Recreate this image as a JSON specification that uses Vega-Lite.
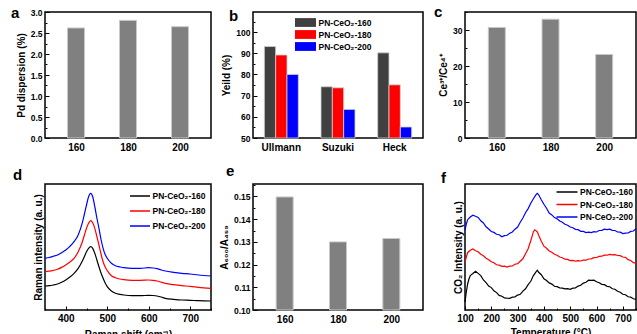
{
"$schema": "https://vega.github.io/schema/vega-lite/v6.json",
"padding": {"left": 10, "top": 4, "right": 0, "bottom": 0},
"config": {
 "font": "Liberation Sans",
 "view": {"stroke": "black", "strokeWidth": 1.5},
 "axis": {"grid": false, "domain": false, "tickColor": "black", "tickSize": -4, "tickWidth": 1, "labelFont": "Liberation Sans", "labelFontWeight": "bold", "labelFontSize": 8.5, "labelColor": "black", "labelPadding": 7, "labelOverlap": false, "labelFlush": false, "titleFont": "Liberation Sans", "titleFontWeight": "bold", "titleFontSize": 10, "titleColor": "black", "titlePadding": 4},
 "axisX": {"labelFontSize": 10},
 "title": {"anchor": "start", "frame": "group", "fontSize": 15, "fontWeight": "bold", "font": "Liberation Sans", "offset": 0, "baseline": "alphabetic", "color": "black"},
 "legend": {"title": null, "labelFont": "Liberation Sans", "labelFontWeight": "bold", "labelFontSize": 8.5, "labelColor": "black", "padding": 0, "orient": "none"}
},
"datasets": {
 "pd": [{"temp": 160, "dispersion": 2.62}, {"temp": 180, "dispersion": 2.80}, {"temp": 200, "dispersion": 2.65}],
 "yield": [
  {"reaction": "Ullmann", "sample": "PN-CeO₂-160", "yield": 93.2},
  {"reaction": "Ullmann", "sample": "PN-CeO₂-180", "yield": 89.2},
  {"reaction": "Ullmann", "sample": "PN-CeO₂-200", "yield": 80.0},
  {"reaction": "Suzuki", "sample": "PN-CeO₂-160", "yield": 74.2},
  {"reaction": "Suzuki", "sample": "PN-CeO₂-180", "yield": 73.7},
  {"reaction": "Suzuki", "sample": "PN-CeO₂-200", "yield": 63.5},
  {"reaction": "Heck", "sample": "PN-CeO₂-160", "yield": 90.2},
  {"reaction": "Heck", "sample": "PN-CeO₂-180", "yield": 75.1},
  {"reaction": "Heck", "sample": "PN-CeO₂-200", "yield": 55.2}
 ],
 "ce": [{"temp": 160, "ratio": 30.7}, {"temp": 180, "ratio": 33.0}, {"temp": 200, "ratio": 23.2}],
 "area": [{"temp": 160, "ratio": 0.1498}, {"temp": 180, "ratio": 0.1300}, {"temp": 200, "ratio": 0.1315}],
 "raman": [
  {"sample": "PN-CeO₂-160", "shift": 350, "intensity": 24},
  {"sample": "PN-CeO₂-160", "shift": 360, "intensity": 24.3},
  {"sample": "PN-CeO₂-160", "shift": 370, "intensity": 25},
  {"sample": "PN-CeO₂-160", "shift": 380, "intensity": 26},
  {"sample": "PN-CeO₂-160", "shift": 390, "intensity": 27.7},
  {"sample": "PN-CeO₂-160", "shift": 400, "intensity": 30},
  {"sample": "PN-CeO₂-160", "shift": 410, "intensity": 33},
  {"sample": "PN-CeO₂-160", "shift": 420, "intensity": 36.7},
  {"sample": "PN-CeO₂-160", "shift": 430, "intensity": 41.7},
  {"sample": "PN-CeO₂-160", "shift": 440, "intensity": 49},
  {"sample": "PN-CeO₂-160", "shift": 445, "intensity": 53.5},
  {"sample": "PN-CeO₂-160", "shift": 450, "intensity": 58.3},
  {"sample": "PN-CeO₂-160", "shift": 455, "intensity": 61.7},
  {"sample": "PN-CeO₂-160", "shift": 460, "intensity": 63.3},
  {"sample": "PN-CeO₂-160", "shift": 465, "intensity": 61.7},
  {"sample": "PN-CeO₂-160", "shift": 470, "intensity": 56.7},
  {"sample": "PN-CeO₂-160", "shift": 475, "intensity": 50},
  {"sample": "PN-CeO₂-160", "shift": 480, "intensity": 43.3},
  {"sample": "PN-CeO₂-160", "shift": 485, "intensity": 37},
  {"sample": "PN-CeO₂-160", "shift": 490, "intensity": 31.7},
  {"sample": "PN-CeO₂-160", "shift": 495, "intensity": 27},
  {"sample": "PN-CeO₂-160", "shift": 500, "intensity": 23.3},
  {"sample": "PN-CeO₂-160", "shift": 510, "intensity": 19},
  {"sample": "PN-CeO₂-160", "shift": 520, "intensity": 16.7},
  {"sample": "PN-CeO₂-160", "shift": 530, "intensity": 15.7},
  {"sample": "PN-CeO₂-160", "shift": 540, "intensity": 15},
  {"sample": "PN-CeO₂-160", "shift": 560, "intensity": 14.3},
  {"sample": "PN-CeO₂-160", "shift": 580, "intensity": 14.3},
  {"sample": "PN-CeO₂-160", "shift": 600, "intensity": 14.7},
  {"sample": "PN-CeO₂-160", "shift": 610, "intensity": 14.5},
  {"sample": "PN-CeO₂-160", "shift": 620, "intensity": 14},
  {"sample": "PN-CeO₂-160", "shift": 630, "intensity": 13},
  {"sample": "PN-CeO₂-160", "shift": 640, "intensity": 11.7},
  {"sample": "PN-CeO₂-160", "shift": 660, "intensity": 10.7},
  {"sample": "PN-CeO₂-160", "shift": 680, "intensity": 10},
  {"sample": "PN-CeO₂-160", "shift": 700, "intensity": 9.7},
  {"sample": "PN-CeO₂-160", "shift": 720, "intensity": 9.3},
  {"sample": "PN-CeO₂-160", "shift": 750, "intensity": 9},
  {"sample": "PN-CeO₂-180", "shift": 350, "intensity": 38.3},
  {"sample": "PN-CeO₂-180", "shift": 360, "intensity": 38.8},
  {"sample": "PN-CeO₂-180", "shift": 370, "intensity": 39.6},
  {"sample": "PN-CeO₂-180", "shift": 380, "intensity": 40.7},
  {"sample": "PN-CeO₂-180", "shift": 390, "intensity": 42.6},
  {"sample": "PN-CeO₂-180", "shift": 400, "intensity": 45},
  {"sample": "PN-CeO₂-180", "shift": 410, "intensity": 48},
  {"sample": "PN-CeO₂-180", "shift": 420, "intensity": 51.7},
  {"sample": "PN-CeO₂-180", "shift": 430, "intensity": 58.3},
  {"sample": "PN-CeO₂-180", "shift": 440, "intensity": 68.3},
  {"sample": "PN-CeO₂-180", "shift": 445, "intensity": 75},
  {"sample": "PN-CeO₂-180", "shift": 450, "intensity": 81.7},
  {"sample": "PN-CeO₂-180", "shift": 455, "intensity": 86.7},
  {"sample": "PN-CeO₂-180", "shift": 460, "intensity": 89.3},
  {"sample": "PN-CeO₂-180", "shift": 465, "intensity": 87.3},
  {"sample": "PN-CeO₂-180", "shift": 470, "intensity": 81.7},
  {"sample": "PN-CeO₂-180", "shift": 475, "intensity": 73.5},
  {"sample": "PN-CeO₂-180", "shift": 480, "intensity": 65},
  {"sample": "PN-CeO₂-180", "shift": 485, "intensity": 56},
  {"sample": "PN-CeO₂-180", "shift": 490, "intensity": 48.3},
  {"sample": "PN-CeO₂-180", "shift": 495, "intensity": 43},
  {"sample": "PN-CeO₂-180", "shift": 500, "intensity": 39.4},
  {"sample": "PN-CeO₂-180", "shift": 510, "intensity": 34.3},
  {"sample": "PN-CeO₂-180", "shift": 520, "intensity": 32.3},
  {"sample": "PN-CeO₂-180", "shift": 530, "intensity": 31},
  {"sample": "PN-CeO₂-180", "shift": 540, "intensity": 30.3},
  {"sample": "PN-CeO₂-180", "shift": 560, "intensity": 29.7},
  {"sample": "PN-CeO₂-180", "shift": 580, "intensity": 29.7},
  {"sample": "PN-CeO₂-180", "shift": 600, "intensity": 30},
  {"sample": "PN-CeO₂-180", "shift": 610, "intensity": 29.7},
  {"sample": "PN-CeO₂-180", "shift": 620, "intensity": 29},
  {"sample": "PN-CeO₂-180", "shift": 630, "intensity": 27.8},
  {"sample": "PN-CeO₂-180", "shift": 640, "intensity": 26.7},
  {"sample": "PN-CeO₂-180", "shift": 660, "intensity": 25.3},
  {"sample": "PN-CeO₂-180", "shift": 680, "intensity": 24.3},
  {"sample": "PN-CeO₂-180", "shift": 700, "intensity": 23.7},
  {"sample": "PN-CeO₂-180", "shift": 720, "intensity": 22.7},
  {"sample": "PN-CeO₂-180", "shift": 750, "intensity": 21.7},
  {"sample": "PN-CeO₂-200", "shift": 350, "intensity": 51.7},
  {"sample": "PN-CeO₂-200", "shift": 360, "intensity": 52.5},
  {"sample": "PN-CeO₂-200", "shift": 370, "intensity": 53.7},
  {"sample": "PN-CeO₂-200", "shift": 380, "intensity": 55},
  {"sample": "PN-CeO₂-200", "shift": 390, "intensity": 57.3},
  {"sample": "PN-CeO₂-200", "shift": 400, "intensity": 60},
  {"sample": "PN-CeO₂-200", "shift": 410, "intensity": 63.7},
  {"sample": "PN-CeO₂-200", "shift": 420, "intensity": 68.3},
  {"sample": "PN-CeO₂-200", "shift": 430, "intensity": 75},
  {"sample": "PN-CeO₂-200", "shift": 440, "intensity": 87.3},
  {"sample": "PN-CeO₂-200", "shift": 445, "intensity": 96},
  {"sample": "PN-CeO₂-200", "shift": 450, "intensity": 105},
  {"sample": "PN-CeO₂-200", "shift": 455, "intensity": 113.3},
  {"sample": "PN-CeO₂-200", "shift": 460, "intensity": 116.7},
  {"sample": "PN-CeO₂-200", "shift": 465, "intensity": 113.3},
  {"sample": "PN-CeO₂-200", "shift": 470, "intensity": 103.3},
  {"sample": "PN-CeO₂-200", "shift": 475, "intensity": 92},
  {"sample": "PN-CeO₂-200", "shift": 480, "intensity": 81.7},
  {"sample": "PN-CeO₂-200", "shift": 485, "intensity": 70.5},
  {"sample": "PN-CeO₂-200", "shift": 490, "intensity": 61.7},
  {"sample": "PN-CeO₂-200", "shift": 495, "intensity": 55.5},
  {"sample": "PN-CeO₂-200", "shift": 500, "intensity": 51.7},
  {"sample": "PN-CeO₂-200", "shift": 510, "intensity": 46.7},
  {"sample": "PN-CeO₂-200", "shift": 520, "intensity": 44.3},
  {"sample": "PN-CeO₂-200", "shift": 530, "intensity": 43.2},
  {"sample": "PN-CeO₂-200", "shift": 540, "intensity": 42.3},
  {"sample": "PN-CeO₂-200", "shift": 560, "intensity": 41.7},
  {"sample": "PN-CeO₂-200", "shift": 580, "intensity": 41.7},
  {"sample": "PN-CeO₂-200", "shift": 600, "intensity": 42.3},
  {"sample": "PN-CeO₂-200", "shift": 610, "intensity": 42},
  {"sample": "PN-CeO₂-200", "shift": 620, "intensity": 41.3},
  {"sample": "PN-CeO₂-200", "shift": 630, "intensity": 40},
  {"sample": "PN-CeO₂-200", "shift": 640, "intensity": 39},
  {"sample": "PN-CeO₂-200", "shift": 660, "intensity": 37.7},
  {"sample": "PN-CeO₂-200", "shift": 680, "intensity": 36.7},
  {"sample": "PN-CeO₂-200", "shift": 700, "intensity": 36},
  {"sample": "PN-CeO₂-200", "shift": 720, "intensity": 35},
  {"sample": "PN-CeO₂-200", "shift": 750, "intensity": 34}
 ],
 "tpd": [
  {"sample": "PN-CeO₂-160", "t": 100, "v": 8},
  {"sample": "PN-CeO₂-160", "t": 105, "v": 18},
  {"sample": "PN-CeO₂-160", "t": 110, "v": 26},
  {"sample": "PN-CeO₂-160", "t": 115, "v": 31},
  {"sample": "PN-CeO₂-160", "t": 120, "v": 34.5},
  {"sample": "PN-CeO₂-160", "t": 130, "v": 36.5},
  {"sample": "PN-CeO₂-160", "t": 140, "v": 38.8},
  {"sample": "PN-CeO₂-160", "t": 150, "v": 36.6},
  {"sample": "PN-CeO₂-160", "t": 160, "v": 34.4},
  {"sample": "PN-CeO₂-160", "t": 170, "v": 30},
  {"sample": "PN-CeO₂-160", "t": 180, "v": 27.4},
  {"sample": "PN-CeO₂-160", "t": 190, "v": 24},
  {"sample": "PN-CeO₂-160", "t": 200, "v": 22.4},
  {"sample": "PN-CeO₂-160", "t": 210, "v": 19.2},
  {"sample": "PN-CeO₂-160", "t": 220, "v": 17.4},
  {"sample": "PN-CeO₂-160", "t": 230, "v": 14.6},
  {"sample": "PN-CeO₂-160", "t": 240, "v": 13.8},
  {"sample": "PN-CeO₂-160", "t": 250, "v": 12.2},
  {"sample": "PN-CeO₂-160", "t": 260, "v": 11.8},
  {"sample": "PN-CeO₂-160", "t": 270, "v": 11.6},
  {"sample": "PN-CeO₂-160", "t": 280, "v": 12.9},
  {"sample": "PN-CeO₂-160", "t": 290, "v": 13.2},
  {"sample": "PN-CeO₂-160", "t": 300, "v": 14.9},
  {"sample": "PN-CeO₂-160", "t": 310, "v": 15.7},
  {"sample": "PN-CeO₂-160", "t": 320, "v": 18.9},
  {"sample": "PN-CeO₂-160", "t": 330, "v": 21.2},
  {"sample": "PN-CeO₂-160", "t": 340, "v": 25.4},
  {"sample": "PN-CeO₂-160", "t": 350, "v": 28.7},
  {"sample": "PN-CeO₂-160", "t": 360, "v": 34.4},
  {"sample": "PN-CeO₂-160", "t": 370, "v": 38.2},
  {"sample": "PN-CeO₂-160", "t": 375, "v": 39.8},
  {"sample": "PN-CeO₂-160", "t": 380, "v": 37.7},
  {"sample": "PN-CeO₂-160", "t": 390, "v": 35.3},
  {"sample": "PN-CeO₂-160", "t": 400, "v": 31.2},
  {"sample": "PN-CeO₂-160", "t": 410, "v": 29.4},
  {"sample": "PN-CeO₂-160", "t": 420, "v": 27.1},
  {"sample": "PN-CeO₂-160", "t": 430, "v": 25.9},
  {"sample": "PN-CeO₂-160", "t": 440, "v": 23.7},
  {"sample": "PN-CeO₂-160", "t": 450, "v": 23.3},
  {"sample": "PN-CeO₂-160", "t": 460, "v": 22.1},
  {"sample": "PN-CeO₂-160", "t": 470, "v": 21.9},
  {"sample": "PN-CeO₂-160", "t": 480, "v": 21.1},
  {"sample": "PN-CeO₂-160", "t": 490, "v": 21.4},
  {"sample": "PN-CeO₂-160", "t": 500, "v": 20.7},
  {"sample": "PN-CeO₂-160", "t": 510, "v": 21.9},
  {"sample": "PN-CeO₂-160", "t": 520, "v": 22.2},
  {"sample": "PN-CeO₂-160", "t": 530, "v": 23.9},
  {"sample": "PN-CeO₂-160", "t": 540, "v": 24.7},
  {"sample": "PN-CeO₂-160", "t": 550, "v": 26.9},
  {"sample": "PN-CeO₂-160", "t": 560, "v": 27.7},
  {"sample": "PN-CeO₂-160", "t": 570, "v": 29.8},
  {"sample": "PN-CeO₂-160", "t": 580, "v": 29.7},
  {"sample": "PN-CeO₂-160", "t": 590, "v": 29.8},
  {"sample": "PN-CeO₂-160", "t": 600, "v": 28.2},
  {"sample": "PN-CeO₂-160", "t": 610, "v": 27.3},
  {"sample": "PN-CeO₂-160", "t": 620, "v": 25.7},
  {"sample": "PN-CeO₂-160", "t": 630, "v": 25.3},
  {"sample": "PN-CeO₂-160", "t": 640, "v": 23.7},
  {"sample": "PN-CeO₂-160", "t": 650, "v": 23.3},
  {"sample": "PN-CeO₂-160", "t": 660, "v": 21.2},
  {"sample": "PN-CeO₂-160", "t": 670, "v": 20.8},
  {"sample": "PN-CeO₂-160", "t": 680, "v": 18.7},
  {"sample": "PN-CeO₂-160", "t": 690, "v": 17.8},
  {"sample": "PN-CeO₂-160", "t": 700, "v": 15.7},
  {"sample": "PN-CeO₂-160", "t": 710, "v": 15.3},
  {"sample": "PN-CeO₂-160", "t": 720, "v": 13.2},
  {"sample": "PN-CeO₂-160", "t": 730, "v": 12.8},
  {"sample": "PN-CeO₂-160", "t": 740, "v": 11.2},
  {"sample": "PN-CeO₂-160", "t": 750, "v": 10.7},
  {"sample": "PN-CeO₂-180", "t": 100, "v": 48},
  {"sample": "PN-CeO₂-180", "t": 105, "v": 53},
  {"sample": "PN-CeO₂-180", "t": 110, "v": 57.3},
  {"sample": "PN-CeO₂-180", "t": 120, "v": 59.7},
  {"sample": "PN-CeO₂-180", "t": 130, "v": 61},
  {"sample": "PN-CeO₂-180", "t": 140, "v": 59.2},
  {"sample": "PN-CeO₂-180", "t": 150, "v": 58.3},
  {"sample": "PN-CeO₂-180", "t": 160, "v": 55.7},
  {"sample": "PN-CeO₂-180", "t": 170, "v": 54.3},
  {"sample": "PN-CeO₂-180", "t": 180, "v": 51.7},
  {"sample": "PN-CeO₂-180", "t": 190, "v": 50.3},
  {"sample": "PN-CeO₂-180", "t": 200, "v": 48.2},
  {"sample": "PN-CeO₂-180", "t": 210, "v": 47.3},
  {"sample": "PN-CeO₂-180", "t": 220, "v": 45.2},
  {"sample": "PN-CeO₂-180", "t": 230, "v": 44.8},
  {"sample": "PN-CeO₂-180", "t": 240, "v": 43.7},
  {"sample": "PN-CeO₂-180", "t": 250, "v": 43.8},
  {"sample": "PN-CeO₂-180", "t": 260, "v": 43},
  {"sample": "PN-CeO₂-180", "t": 270, "v": 43.8},
  {"sample": "PN-CeO₂-180", "t": 280, "v": 44},
  {"sample": "PN-CeO₂-180", "t": 290, "v": 45.8},
  {"sample": "PN-CeO₂-180", "t": 300, "v": 46.4},
  {"sample": "PN-CeO₂-180", "t": 310, "v": 48.8},
  {"sample": "PN-CeO₂-180", "t": 320, "v": 51.2},
  {"sample": "PN-CeO₂-180", "t": 330, "v": 56.3},
  {"sample": "PN-CeO₂-180", "t": 340, "v": 61.2},
  {"sample": "PN-CeO₂-180", "t": 350, "v": 69.3},
  {"sample": "PN-CeO₂-180", "t": 355, "v": 73.7},
  {"sample": "PN-CeO₂-180", "t": 360, "v": 78.3},
  {"sample": "PN-CeO₂-180", "t": 365, "v": 80.2},
  {"sample": "PN-CeO₂-180", "t": 370, "v": 79.3},
  {"sample": "PN-CeO₂-180", "t": 375, "v": 78.2},
  {"sample": "PN-CeO₂-180", "t": 380, "v": 74.8},
  {"sample": "PN-CeO₂-180", "t": 390, "v": 68.7},
  {"sample": "PN-CeO₂-180", "t": 400, "v": 63.8},
  {"sample": "PN-CeO₂-180", "t": 410, "v": 61.7},
  {"sample": "PN-CeO₂-180", "t": 420, "v": 59},
  {"sample": "PN-CeO₂-180", "t": 430, "v": 57.8},
  {"sample": "PN-CeO₂-180", "t": 440, "v": 55.7},
  {"sample": "PN-CeO₂-180", "t": 450, "v": 54.8},
  {"sample": "PN-CeO₂-180", "t": 460, "v": 53},
  {"sample": "PN-CeO₂-180", "t": 470, "v": 52.3},
  {"sample": "PN-CeO₂-180", "t": 480, "v": 50.8},
  {"sample": "PN-CeO₂-180", "t": 490, "v": 50.6},
  {"sample": "PN-CeO₂-180", "t": 500, "v": 49.4},
  {"sample": "PN-CeO₂-180", "t": 510, "v": 49.6},
  {"sample": "PN-CeO₂-180", "t": 520, "v": 48.8},
  {"sample": "PN-CeO₂-180", "t": 530, "v": 49.3},
  {"sample": "PN-CeO₂-180", "t": 540, "v": 49},
  {"sample": "PN-CeO₂-180", "t": 550, "v": 49.9},
  {"sample": "PN-CeO₂-180", "t": 560, "v": 49.8},
  {"sample": "PN-CeO₂-180", "t": 570, "v": 51},
  {"sample": "PN-CeO₂-180", "t": 580, "v": 51.1},
  {"sample": "PN-CeO₂-180", "t": 590, "v": 52.3},
  {"sample": "PN-CeO₂-180", "t": 600, "v": 52.5},
  {"sample": "PN-CeO₂-180", "t": 610, "v": 53.6},
  {"sample": "PN-CeO₂-180", "t": 620, "v": 53.8},
  {"sample": "PN-CeO₂-180", "t": 630, "v": 54.8},
  {"sample": "PN-CeO₂-180", "t": 640, "v": 54.8},
  {"sample": "PN-CeO₂-180", "t": 650, "v": 55.6},
  {"sample": "PN-CeO₂-180", "t": 660, "v": 55.1},
  {"sample": "PN-CeO₂-180", "t": 670, "v": 55.3},
  {"sample": "PN-CeO₂-180", "t": 680, "v": 54.5},
  {"sample": "PN-CeO₂-180", "t": 690, "v": 54.3},
  {"sample": "PN-CeO₂-180", "t": 700, "v": 53},
  {"sample": "PN-CeO₂-180", "t": 710, "v": 52.6},
  {"sample": "PN-CeO₂-180", "t": 720, "v": 50.4},
  {"sample": "PN-CeO₂-180", "t": 730, "v": 49.5},
  {"sample": "PN-CeO₂-180", "t": 740, "v": 47.4},
  {"sample": "PN-CeO₂-180", "t": 750, "v": 46.9},
  {"sample": "PN-CeO₂-200", "t": 100, "v": 80},
  {"sample": "PN-CeO₂-200", "t": 105, "v": 86},
  {"sample": "PN-CeO₂-200", "t": 110, "v": 90.3},
  {"sample": "PN-CeO₂-200", "t": 120, "v": 93},
  {"sample": "PN-CeO₂-200", "t": 130, "v": 94.8},
  {"sample": "PN-CeO₂-200", "t": 140, "v": 93.7},
  {"sample": "PN-CeO₂-200", "t": 150, "v": 92.6},
  {"sample": "PN-CeO₂-200", "t": 160, "v": 89.2},
  {"sample": "PN-CeO₂-200", "t": 170, "v": 87},
  {"sample": "PN-CeO₂-200", "t": 180, "v": 83.2},
  {"sample": "PN-CeO₂-200", "t": 190, "v": 81},
  {"sample": "PN-CeO₂-200", "t": 200, "v": 78.5},
  {"sample": "PN-CeO₂-200", "t": 210, "v": 77.6},
  {"sample": "PN-CeO₂-200", "t": 220, "v": 75.7},
  {"sample": "PN-CeO₂-200", "t": 230, "v": 75.3},
  {"sample": "PN-CeO₂-200", "t": 240, "v": 73.2},
  {"sample": "PN-CeO₂-200", "t": 250, "v": 74.3},
  {"sample": "PN-CeO₂-200", "t": 260, "v": 74.7},
  {"sample": "PN-CeO₂-200", "t": 270, "v": 76.8},
  {"sample": "PN-CeO₂-200", "t": 280, "v": 78},
  {"sample": "PN-CeO₂-200", "t": 290, "v": 80.8},
  {"sample": "PN-CeO₂-200", "t": 300, "v": 83},
  {"sample": "PN-CeO₂-200", "t": 310, "v": 87.8},
  {"sample": "PN-CeO₂-200", "t": 320, "v": 92},
  {"sample": "PN-CeO₂-200", "t": 330, "v": 97.3},
  {"sample": "PN-CeO₂-200", "t": 340, "v": 101.4},
  {"sample": "PN-CeO₂-200", "t": 350, "v": 106.8},
  {"sample": "PN-CeO₂-200", "t": 360, "v": 111.2},
  {"sample": "PN-CeO₂-200", "t": 370, "v": 115.3},
  {"sample": "PN-CeO₂-200", "t": 375, "v": 116.6},
  {"sample": "PN-CeO₂-200", "t": 380, "v": 115.2},
  {"sample": "PN-CeO₂-200", "t": 390, "v": 110.3},
  {"sample": "PN-CeO₂-200", "t": 400, "v": 105.7},
  {"sample": "PN-CeO₂-200", "t": 410, "v": 101.8},
  {"sample": "PN-CeO₂-200", "t": 420, "v": 97},
  {"sample": "PN-CeO₂-200", "t": 430, "v": 95.1},
  {"sample": "PN-CeO₂-200", "t": 440, "v": 92.4},
  {"sample": "PN-CeO₂-200", "t": 450, "v": 91.3},
  {"sample": "PN-CeO₂-200", "t": 460, "v": 89},
  {"sample": "PN-CeO₂-200", "t": 470, "v": 87.8},
  {"sample": "PN-CeO₂-200", "t": 480, "v": 85.7},
  {"sample": "PN-CeO₂-200", "t": 490, "v": 84.8},
  {"sample": "PN-CeO₂-200", "t": 500, "v": 83},
  {"sample": "PN-CeO₂-200", "t": 510, "v": 82.3},
  {"sample": "PN-CeO₂-200", "t": 520, "v": 80.7},
  {"sample": "PN-CeO₂-200", "t": 530, "v": 80.3},
  {"sample": "PN-CeO₂-200", "t": 540, "v": 78.7},
  {"sample": "PN-CeO₂-200", "t": 550, "v": 78.6},
  {"sample": "PN-CeO₂-200", "t": 560, "v": 77.4},
  {"sample": "PN-CeO₂-200", "t": 570, "v": 77.8},
  {"sample": "PN-CeO₂-200", "t": 580, "v": 77.4},
  {"sample": "PN-CeO₂-200", "t": 590, "v": 78.3},
  {"sample": "PN-CeO₂-200", "t": 600, "v": 78},
  {"sample": "PN-CeO₂-200", "t": 610, "v": 79.5},
  {"sample": "PN-CeO₂-200", "t": 620, "v": 79.7},
  {"sample": "PN-CeO₂-200", "t": 630, "v": 80.8},
  {"sample": "PN-CeO₂-200", "t": 640, "v": 80.4},
  {"sample": "PN-CeO₂-200", "t": 650, "v": 80.8},
  {"sample": "PN-CeO₂-200", "t": 660, "v": 79.7},
  {"sample": "PN-CeO₂-200", "t": 670, "v": 79.5},
  {"sample": "PN-CeO₂-200", "t": 680, "v": 78},
  {"sample": "PN-CeO₂-200", "t": 690, "v": 77.8},
  {"sample": "PN-CeO₂-200", "t": 700, "v": 76.4},
  {"sample": "PN-CeO₂-200", "t": 710, "v": 76.8},
  {"sample": "PN-CeO₂-200", "t": 720, "v": 77},
  {"sample": "PN-CeO₂-200", "t": 730, "v": 78.6},
  {"sample": "PN-CeO₂-200", "t": 740, "v": 79},
  {"sample": "PN-CeO₂-200", "t": 750, "v": 81.2}
 ]
},
"bounds": "flush",
"columns": 3,
"spacing": {"row": 46, "column": 42},
"resolve": {"scale": {"color": "independent"}, "legend": {"color": "independent"}},
"concat": [
   {
    "width": 166, "height": 126,
    "title": {"text": "a", "dx": -34, "dy": 17},
    "data": {"name": "pd"},
    "mark": {"type": "bar", "width": 17, "color": "#808080", "stroke": "#c8c8c8", "strokeWidth": 1},
    "encoding": {
     "x": {"field": "temp", "type": "quantitative", "scale": {"domain": [150, 210]}, "axis": {"values": [160, 180, 200], "title": null, "format": "d", "tickSize": -3}},
     "y": {"field": "dispersion", "type": "quantitative", "scale": {"domain": [0, 3]}, "axis": {"title": "Pd dispersion (%)", "values": [0, 0.25, 0.5, 0.75, 1, 1.25, 1.5, 1.75, 2, 2.25, 2.5, 2.75, 3], "labelExpr": "datum.value % 0.5 == 0 ? format(datum.value, '.1f') : ''", "tickSize": {"condition": {"test": "datum.value % 0.5 != 0", "value": -2}, "value": -4}}}
    }
   },
   {
    "width": 170, "height": 126,
    "title": {"text": "b", "dx": -24, "dy": 16},
    "data": {"name": "yield"},
    "mark": {"type": "bar", "stroke": "#d0d0d0", "strokeWidth": 0.8},
    "encoding": {
     "x": {"field": "reaction", "type": "nominal", "sort": ["Ullmann", "Suzuki", "Heck"], "scale": {"paddingInner": 0.4, "paddingOuter": 0.2}, "axis": {"title": null, "labelAngle": 0, "ticks": false, "labelPadding": 4}},
     "xOffset": {"field": "sample", "type": "nominal", "scale": {"paddingInner": 0, "paddingOuter": 0}},
     "y": {"field": "yield", "type": "quantitative", "scale": {"domain": [50, 109.5]}, "axis": {"title": "Yeild (%)", "values": [50, 55, 60, 65, 70, 75, 80, 85, 90, 95, 100, 105], "labelExpr": "datum.value % 10 == 0 ? datum.value : ''", "tickSize": {"condition": {"test": "datum.value % 10 != 0", "value": -2}, "value": -4}}},
     "y2": {"datum": 50},
     "color": {"field": "sample", "type": "nominal", "scale": {"domain": ["PN-CeO₂-160", "PN-CeO₂-180", "PN-CeO₂-200"], "range": ["#404040", "#ff0000", "#0000ff"]}, "legend": {"legendX": 47, "legendY": 5, "symbolType": "M-2,-0.84H2V0.84H-2Z", "symbolSize": 110, "symbolStrokeWidth": 0, "symbolOpacity": 1, "rowPadding": 2, "labelOffset": 7.5}}
    }
   },
   {
    "width": 171, "height": 126,
    "title": {"text": "c", "dx": -31, "dy": 16},
    "data": {"name": "ce"},
    "mark": {"type": "bar", "width": 17, "color": "#808080", "stroke": "#c8c8c8", "strokeWidth": 1},
    "encoding": {
     "x": {"field": "temp", "type": "quantitative", "scale": {"domain": [150, 210]}, "axis": {"values": [160, 180, 200], "title": null, "format": "d", "tickSize": -3}},
     "y": {"field": "ratio", "type": "quantitative", "scale": {"domain": [0, 35]}, "axis": {"title": "Ce³⁺/Ce⁴⁺", "values": [0, 5, 10, 15, 20, 25, 30, 35], "labelExpr": "datum.value % 10 == 0 ? datum.value : ''", "tickSize": {"condition": {"test": "datum.value % 10 != 0", "value": -2}, "value": -4}}}
    }
   },
   {
    "width": 166, "height": 126,
    "title": {"text": "d", "dx": -32, "dy": 3},
    "data": {"name": "raman"},
    "mark": {"type": "line", "strokeWidth": 1.2, "interpolate": "monotone"},
    "encoding": {
     "x": {"field": "shift", "type": "quantitative", "scale": {"domain": [350, 750]}, "axis": {"title": "Raman shift (cm⁻¹)", "values": [350, 400, 450, 500, 550, 600, 650, 700, 750], "labelExpr": "datum.value % 100 == 0 ? datum.value : ''", "tickSize": {"condition": {"test": "datum.value % 100 != 0", "value": -2}, "value": -4}}},
     "y": {"field": "intensity", "type": "quantitative", "scale": {"domain": [0, 126]}, "axis": {"title": "Raman intensity (a. u.)", "labels": false, "ticks": false, "titlePadding": 2}},
     "color": {"field": "sample", "type": "nominal", "scale": {"domain": ["PN-CeO₂-160", "PN-CeO₂-180", "PN-CeO₂-200"], "range": ["#000000", "#ff0000", "#0000ff"]}, "legend": {"legendX": 89, "legendY": 6, "symbolType": "M-2,0H2", "symbolSize": 100, "symbolStrokeWidth": 1.5, "rowPadding": 4, "labelOffset": 6.5}}
    }
   },
   {
    "width": 170, "height": 126,
    "title": {"text": "e", "dx": -27, "dy": 2},
    "data": {"name": "area"},
    "mark": {"type": "bar", "width": 17, "color": "#808080", "stroke": "#c8c8c8", "strokeWidth": 1},
    "encoding": {
     "x": {"field": "temp", "type": "quantitative", "scale": {"domain": [150, 210]}, "axis": {"values": [160, 180, 200], "title": null, "format": "d", "tickSize": -3}},
     "y": {"field": "ratio", "type": "quantitative", "scale": {"domain": [0.10, 0.1555]}, "axis": {"title": "A₆₀₀/A₄₅₉", "values": [0.1, 0.105, 0.11, 0.115, 0.12, 0.125, 0.13, 0.135, 0.14, 0.145, 0.15, 0.155], "labelExpr": "abs(datum.value * 100 - round(datum.value * 100)) < 0.001 ? format(datum.value, '.2f') : ''", "tickSize": {"condition": {"test": "abs(datum.value * 100 - round(datum.value * 100)) > 0.001", "value": -2}, "value": -4}}},
     "y2": {"datum": 0.10}
    }
   },
   {
    "width": 171, "height": 126,
    "title": {"text": "f", "dx": -24, "dy": 6},
    "data": {"name": "tpd"},
    "mark": {"type": "line", "strokeWidth": 1.2},
    "encoding": {
     "x": {"field": "t", "type": "quantitative", "scale": {"domain": [100, 750]}, "axis": {"title": "Temperature (°C)", "titlePadding": 2, "values": [100, 150, 200, 250, 300, 350, 400, 450, 500, 550, 600, 650, 700, 750], "labelExpr": "datum.value % 100 == 0 ? datum.value : ''", "tickSize": {"condition": {"test": "datum.value % 100 != 0", "value": -2}, "value": -4}}},
     "y": {"field": "v", "type": "quantitative", "scale": {"domain": [0, 126]}, "axis": {"title": "CO₂ Intensity (a. u.)", "labels": false, "ticks": false, "titlePadding": 2}},
     "color": {"field": "sample", "type": "nominal", "scale": {"domain": ["PN-CeO₂-160", "PN-CeO₂-180", "PN-CeO₂-200"], "range": ["#000000", "#ff0000", "#0000ff"]}, "legend": {"legendX": 96, "legendY": 2, "symbolType": "M-2,0H2", "symbolSize": 110, "symbolStrokeWidth": 1.5, "rowPadding": 1.5, "labelOffset": 7}}
    }
   }
]
}
